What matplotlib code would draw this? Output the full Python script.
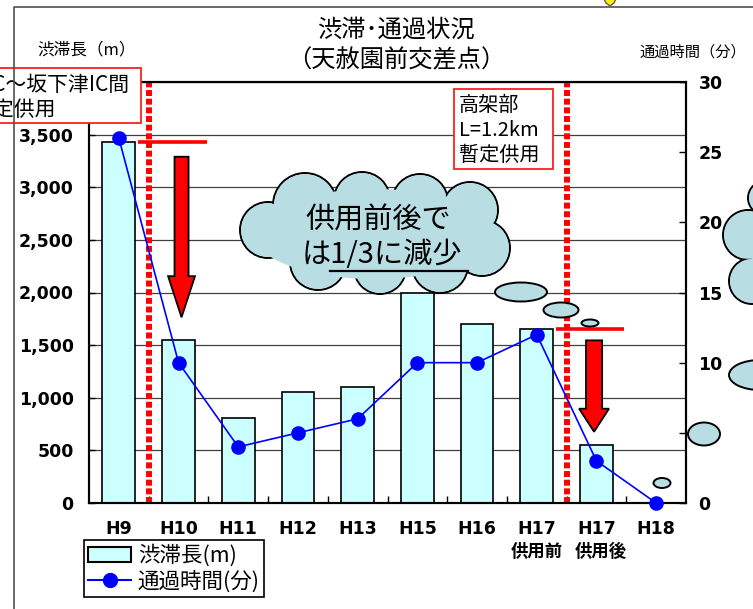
import matplotlib
matplotlib.use('Agg')
import matplotlib.pyplot as plt
from matplotlib.patches import Rectangle, Ellipse, Circle, Polygon, Patch
from matplotlib.lines import Line2D
from matplotlib.transforms import Affine2D, blended_transform_factory
import numpy as np

# ---------------- data ----------------
years = ['H9', 'H10', 'H11', 'H12', 'H13', 'H15', 'H16', 'H17', 'H17', 'H18']
sub_labels = ['', '', '', '', '', '', '', '供用前', '供用後', '']
jam_length = [3430, 1550, 810, 1050, 1100, 2000, 1700, 1650, 550, 0]      # 渋滞長 (m)
travel_time = [26, 10, 4, 5, 6, 10, 10, 12, 3, 0]                         # 通過時間 (分)
left_ticks = [0, 500, 1000, 1500, 2000, 2500, 3000, 3500, 4000]
right_ticks = [0, 5, 10, 15, 20, 25, 30]

CJK = ['Noto Sans CJK JP', 'DejaVu Sans']
plt.rcParams['font.family'] = ['DejaVu Sans', 'Noto Sans CJK JP']

W, H = 753, 609
fig = plt.figure(figsize=(W / 100, H / 100), dpi=100)
P = Affine2D().scale(1 / W, -1 / H).translate(0, 1) + fig.transFigure  # pixel coords, top-left origin

ax = fig.add_axes([89 / W, 1 - 503 / H, (686 - 89) / W, (503 - 82) / H])
x = np.arange(len(years))

ax.bar(x, jam_length, width=0.55, color='#ccffff', edgecolor='black', linewidth=1.2, zorder=2)
ax.set_xlim(-0.5, len(years) - 0.5)
ax.set_ylim(0, 4000)
ax.yaxis.grid(True, color='#404040', lw=0.9)
ax.set_axisbelow(True)

ax.set_yticks(left_ticks)
ax.set_yticklabels([f'{v:,}' if v < 4000 else '' for v in left_ticks], fontweight='bold', fontsize=12.5)
ax.tick_params(axis='y', direction='in', length=4, width=1, pad=11)
ax.set_xticks(x)
ax.set_xticklabels(years, fontweight='bold', fontsize=12.5)
ax.tick_params(axis='x', which='major', length=0, pad=12)
ax.set_xticks(np.arange(0.5, len(years) - 1, 1), minor=True)
ax.tick_params(axis='x', which='minor', direction='in', length=5, width=1)

# red dotted separators (between categories)
for xb in [0.5, 7.5]:
    ax.axvline(xb, color='#ff0000', lw=4.3, linestyle=(0, (1.0, 0.45)), zorder=3, clip_on=False)

# red level marks at before-values
ax.hlines(jam_length[0], 0.32, 1.48, color='#ff0000', lw=2.6, zorder=4)
ax.hlines(jam_length[7], 7.32, 8.46, color='#ff0000', lw=2.6, zorder=4)


def down_arrow(a, xc, ytop, yhead, ytip, sw, hw):
    pts = [(xc - sw / 2, ytop), (xc + sw / 2, ytop), (xc + sw / 2, yhead), (xc + hw / 2, yhead),
           (xc, ytip), (xc - hw / 2, yhead), (xc - sw / 2, yhead)]
    a.add_patch(Polygon(pts, closed=True, facecolor='#ff0000', edgecolor='black', lw=1.3, zorder=4))


down_arrow(ax, 1.05, 3290, 2155, 1764, 0.235, 0.45)
down_arrow(ax, 7.96, 1545, 896, 677, 0.27, 0.5)

ax2 = ax.twinx()
ax2.set_ylim(0, 30)
ax2.plot(x, travel_time, color='#0000ff', lw=1.2, marker='o', ms=9.5, clip_on=False, zorder=5)
ax2.set_yticks(right_ticks)
ax2.set_yticklabels([str(v) for v in right_ticks], fontweight='bold', fontsize=12.5)
ax2.tick_params(axis='y', direction='in', length=5, width=1, pad=9)

for a in (ax, ax2):
    for s in a.spines.values():
        s.set_linewidth(1.5)
        s.set_color('black')

# second-line x labels
bt = blended_transform_factory(ax.transData, P)
for i, s in enumerate(sub_labels):
    if s:
        ax.text(i + (0.08 if s == '供用後' else 0), 552, s, transform=bt, ha='center', va='center',
                fontsize=12.5, fontweight='bold', family=CJK, clip_on=False)

# titles and axis labels
fig.text(396, 30, '渋滞･通過状況', transform=P, ha='center', va='center', fontsize=17.5, family=CJK)
fig.text(396, 60, '（天赦園前交差点）', transform=P, ha='center', va='center', fontsize=17.5, family=CJK)
fig.text(37, 50, '渋滞長（m）', transform=P, ha='left', va='center', fontsize=12, family=CJK)
fig.text(640, 52, '通過時間（分）', transform=P, ha='left', va='center', fontsize=11, family=CJK)

# annotation boxes (the left one is partly outside the picture, as in the original)
fig.add_artist(Rectangle((-10, 68), 151, 55, transform=P, facecolor='white', edgecolor='#ff2020', lw=1.3, zorder=5))
fig.text(130, 85, 'IC～坂下津IC間', transform=P, ha='right', va='center', fontsize=15, family=CJK, zorder=6)
fig.text(56, 110, '暫定供用', transform=P, ha='right', va='center', fontsize=15, family=CJK, zorder=6)

fig.add_artist(Rectangle((454, 89), 99, 80, transform=P, facecolor='white', edgecolor='#ff2020', lw=1.3, zorder=5))
fig.text(459, 105, '高架部', transform=P, ha='left', va='center', fontsize=14.5, family=CJK, zorder=6)
fig.text(459, 130, 'L=1.2km', transform=P, ha='left', va='center', fontsize=14.5, family=CJK, zorder=6)
fig.text(459, 155, '暫定供用', transform=P, ha='left', va='center', fontsize=14.5, family=CJK, zorder=6)

CLOUD = '#b8dde2'


def cloud(circles, core=None, z=4):
    for (cx, cy, r) in circles:
        fig.add_artist(Circle((cx, cy), r, transform=P, facecolor=CLOUD, edgecolor='black', lw=1.4, zorder=z))
    for (cx, cy, r) in circles:
        fig.add_artist(Circle((cx, cy), r - 1.2, transform=P, facecolor=CLOUD, edgecolor='none', zorder=z + 0.1))
    if core is not None:
        cx, cy, w, h = core
        fig.add_artist(Ellipse((cx, cy), w, h, transform=P, facecolor=CLOUD, edgecolor='none', zorder=z + 0.2))


cloud([(268, 230, 28), (305, 205, 32), (362, 200, 28), (420, 202, 28), (470, 210, 28),
       (482, 248, 28), (440, 265, 28), (380, 268, 26), (318, 262, 28)],
      core=(374, 234, 240, 90))
fig.text(378, 221, '供用前後で', transform=P, ha='center', va='center', fontsize=21, family=CJK, zorder=6)
fig.text(382, 255, 'は1/3に減少', transform=P, ha='center', va='center', fontsize=21, family=CJK, zorder=6)
fig.add_artist(Line2D([330, 468], [271, 271], transform=P, color='black', lw=1.6, zorder=6))

# thought bubbles
for (cx, cy, w, h) in [(521, 292, 52, 19), (561, 310, 35, 15), (590, 323, 17, 7),
                       (662, 483, 17, 10), (704, 434, 32, 23), (760, 375, 62, 30)]:
    fig.add_artist(Ellipse((cx, cy), w, h, transform=P, facecolor=CLOUD, edgecolor='black', lw=1.4, zorder=4))

# right-hand cloud (cut off by the figure edge)
cloud([(765, 198, 17), (748, 235, 25), (752, 281, 23)], core=(765, 240, 30, 90))

# outer chart frame and stray shape at the top
fig.add_artist(Line2D([14, 14, 760], [620, 7, 7], transform=P, color='#505050', lw=1.2, zorder=7))
fig.add_artist(Polygon([(603, -3), (617, -3), (614, 3), (610, 6), (606, 3)], closed=True, transform=P,
                       facecolor='#ffee00', edgecolor='#606060', lw=1, zorder=7))

# legend
handles = [Patch(facecolor='#ccffff', edgecolor='black', lw=1.5),
           Line2D([], [], color='#0000ff', lw=1.5, marker='o', ms=10)]
leg = fig.legend(handles, ['渋滞長(m)', '通過時間(分)'], loc='upper left',
                 bbox_to_anchor=(84 / W, 1 - 540 / H), borderaxespad=0, frameon=True, fancybox=False,
                 edgecolor='black', framealpha=1, prop={'family': CJK, 'size': 15.5},
                 handlelength=2.0, handletextpad=0.3, labelspacing=0.15, borderpad=0.2)
leg.get_frame().set_linewidth(1.2)

fig.savefig('out.png', dpi=100)
